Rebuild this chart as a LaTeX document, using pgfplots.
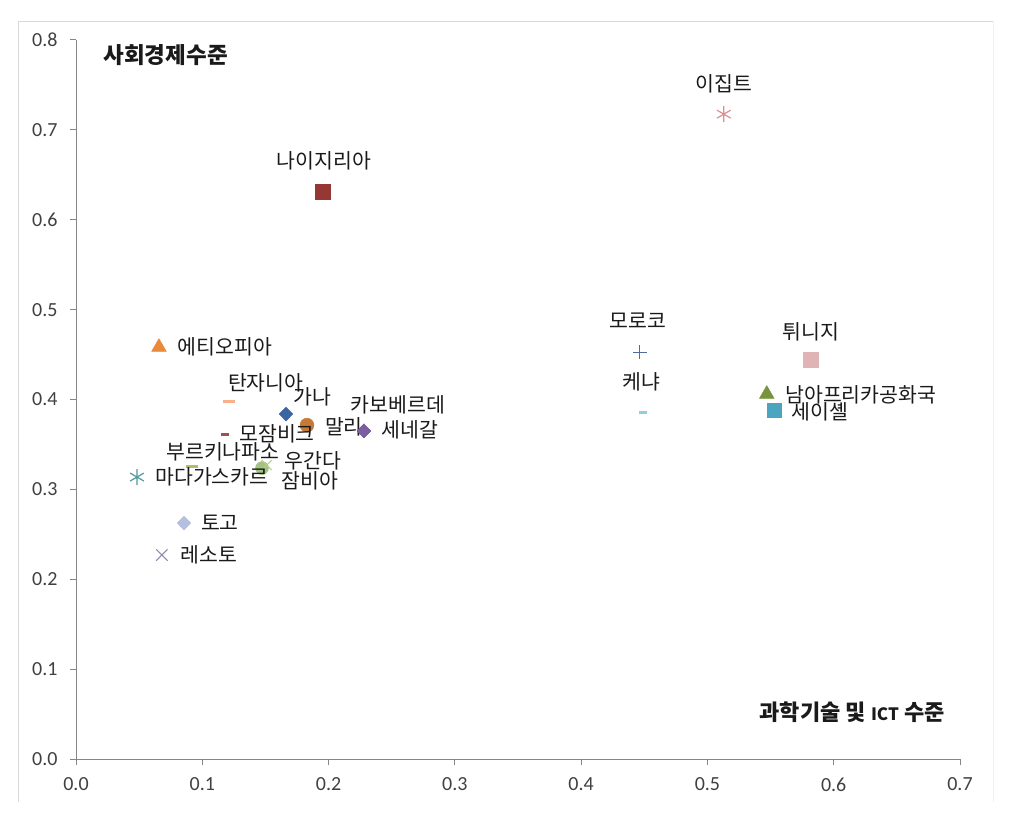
\documentclass[border=0pt]{standalone}
\usepackage{fontspec}
\setmainfont{Carlito}
\newfontfamily\kr{Noto Sans CJK KR}
\usepackage{pgfplots}
\pgfplotsset{compat=1.18}
\definecolor{axisgrey}{HTML}{868686}
\definecolor{framegrey}{HTML}{D9D9D9}
\definecolor{labtext}{HTML}{1A1A1A}
\definecolor{cEgy}{HTML}{DE8E90}
\definecolor{cNig}{HTML}{953735}
\definecolor{cEth}{HTML}{E8893C}
\definecolor{cMor}{HTML}{4F6D9A}
\definecolor{cTun}{HTML}{E0B4B4}
\definecolor{cRsa}{HTML}{77933C}
\definecolor{cSey}{HTML}{4BA5C0}
\definecolor{cKen}{HTML}{93CDDD}
\definecolor{cTan}{HTML}{F9B08A}
\definecolor{cGha}{HTML}{3B64A0}
\definecolor{cMal}{HTML}{C67A35}
\definecolor{cSen}{HTML}{7A5EA0}
\definecolor{cMoz}{HTML}{A0524F}
\definecolor{cBur}{HTML}{A9C06F}
\definecolor{cUga}{HTML}{A3C283}
\definecolor{cZam}{HTML}{B3CC8F}
\definecolor{cMad}{HTML}{4F9A9A}
\definecolor{cTog}{HTML}{B5BFDF}
\definecolor{cLes}{HTML}{8A8AAE}
\newcommand\lab{\kr\fontsize{20.5bp}{22bp}\selectfont}
\pgfplotsset{
  lbl/.style n args={3}{
    nodes near coords={\lab #1},
    every node near coord/.style={anchor=center, xshift=#2bp, yshift=#3bp, text=labtext, inner sep=0pt}
  },
  dia/.style={mark=diamond*, mark size=7bp, mark options={xscale=1.3}}
}
\begin{document}
\begin{tikzpicture}
  \useasboundingbox (-76bp,-56bp) rectangle (952bp,759bp);
  \draw[framegrey, line width=0.8bp] (-58bp,-43bp) -- (-58bp,738bp) -- (917bp,738bp);
  \draw[framegrey!40, line width=0.8bp] (917bp,738bp) -- (917bp,-43bp);
  \begin{axis}[
    scale only axis,
    width=884bp, height=719bp,
    xmin=0, xmax=0.7, ymin=0, ymax=0.8,
    axis lines=left,
    axis line style={-, draw=axisgrey, line width=1bp},
    tick style={draw=axisgrey, line width=1bp},
    tick align=outside,
    major tick length=6bp,
    xtick={0,0.1,...,0.7}, ytick={0,0.1,...,0.8},
    /pgf/number format/assume math mode=true,
    /pgf/number format/.cd, fixed, fixed zerofill, precision=1, /pgfplots/.cd,
    ticklabel style={font=\fontsize{20bp}{22bp}\selectfont, text=black!75},
    xticklabel style={yshift=-9bp},
    yticklabel style={xshift=-9bp},
    clip=false,
  ]
    \addplot[only marks, mark=asterisk, mark size=8bp, color=cEgy, line width=1.2bp, lbl={이집트}{0}{30}] coordinates {(0.513,0.7175)};
    \addplot[only marks, mark=square*, mark size=7.5bp, color=cNig, lbl={나이지리아}{1}{31}] coordinates {(0.1956,0.6307)};
    \addplot[only marks, mark=triangle*, mark size=8.5bp, color=cEth, lbl={에티오피아}{66}{0}] coordinates {(0.0657,0.4583)};
    \addplot[only marks, mark=+, mark size=7bp, color=cMor, line width=1bp, lbl={모로코}{-2}{31}] coordinates {(0.4466,0.4527)};
    \addplot[only marks, mark=square*, mark size=7.5bp, color=cTun, lbl={튀니지}{0}{28}] coordinates {(0.582,0.4438)};
    \addplot[only marks, mark=-, mark size=4bp, color=cKen, line width=3bp, lbl={케냐}{-2}{31}] coordinates {(0.449,0.385)};
    \addplot[only marks, mark=triangle*, mark size=8.5bp, color=cRsa, lbl={남아프리카공화국}{94}{-1}] coordinates {(0.547,0.406)};
    \addplot[only marks, mark=square*, mark size=7bp, color=cSey, lbl={세이셸}{46}{-2}] coordinates {(0.5527,0.388)};
    \addplot[only marks, mark=-, mark size=6bp, color=cTan, line width=3bp, lbl={탄자니아}{37}{18}] coordinates {(0.121,0.398)};
    \addplot[only marks, dia, color=cGha, lbl={가나}{26}{17}] coordinates {(0.1663,0.3838)};
    \addplot[only marks, dia, color=cSen, lbl={카보베르데}{34}{26}] coordinates {(0.228,0.365)};
    \addplot[only marks, mark=*, mark size=7bp, color=cMal, lbl={말리}{37}{-2}] coordinates {(0.1829,0.3715)};
    \addplot[only marks, dia, color=cSen, lbl={세네갈}{46}{1}] coordinates {(0.228,0.365)};
    \addplot[only marks, mark=-, mark size=4bp, color=cMoz, line width=3bp, lbl={모잠비크}{52}{0}] coordinates {(0.118,0.3615)};
    \addplot[only marks, mark=-, mark size=6bp, color=cBur, line width=3bp, lbl={부르키나파소}{31}{14}] coordinates {(0.0918,0.326)};
    \addplot[only marks, mark=*, mark size=6.5bp, color=cUga, lbl={우간다}{51}{7}] coordinates {(0.1473,0.3237)};
    \addplot[only marks, mark=x, mark size=7bp, color=cZam, line width=1bp, lbl={잠비아}{43}{-16}] coordinates {(0.151,0.327)};
    \addplot[only marks, mark=asterisk, mark size=8bp, color=cMad, line width=1.2bp, lbl={마다가스카르}{75}{0}] coordinates {(0.0483,0.3137)};
    \addplot[only marks, dia, color=cTog, lbl={토고}{36}{0}] coordinates {(0.0855,0.2625)};
    \addplot[only marks, mark=x, mark size=8bp, color=cLes, line width=1bp, lbl={레소토}{47}{0}] coordinates {(0.068,0.2269)};
  \end{axis}
  \node[anchor=west, text=labtext, font=\kr\bfseries\fontsize{22.5bp}{24bp}\selectfont] at (24bp,704bp) {사회경제수준};
  \node[anchor=east, text=labtext, font=\kr\bfseries\fontsize{22bp}{24bp}\selectfont] at (872bp,47bp) {과학기술 및 {\fontsize{17bp}{19bp}\selectfont ICT} 수준};
\end{tikzpicture}
\end{document}
